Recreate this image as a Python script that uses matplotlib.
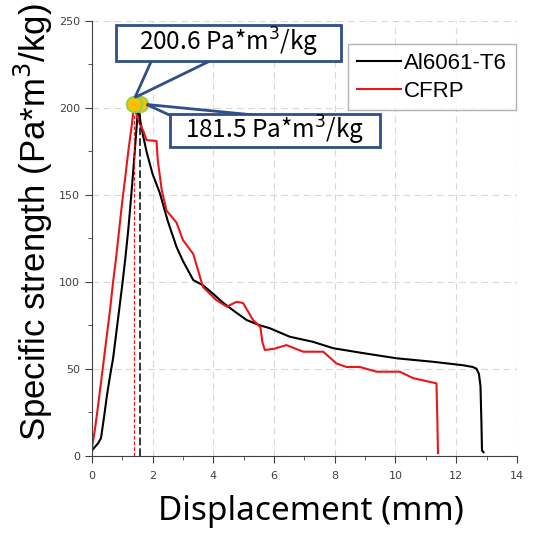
import numpy as np
import matplotlib.pyplot as plt
from matplotlib.patches import Polygon, Rectangle

# Al6061-T6 curve (displacement mm, specific strength)
al_x = [0, 0.1, 0.2, 0.3, 0.4, 0.5, 0.6, 0.7, 0.8, 0.9, 1.0, 1.1, 1.2, 1.3, 1.4, 1.5, 1.55,
        1.6, 1.7, 1.8, 2.0, 2.24, 2.5, 2.79, 3.0, 3.34, 3.66, 4.0, 4.32, 4.7, 5.1, 5.53, 5.86,
        6.52, 7.28, 7.95, 8.93, 10.04, 11.24, 12.23, 12.55, 12.67, 12.75, 12.8, 12.83, 12.85, 12.9]
al_y = [3, 5, 7, 10, 22, 35, 46, 56, 70, 84, 98, 113, 130, 150, 172, 195, 200.6,
        192, 183, 175, 162, 151, 135, 120, 112, 101, 98, 93, 88, 83, 78, 75, 73.3,
        68.4, 65.5, 61.8, 59, 56, 54, 52, 51, 50, 47, 40, 20, 3, 2]

# CFRP curve
cf_x = [0, 0.1, 0.2, 0.3, 0.4, 0.5, 0.6, 0.7, 0.8, 0.9, 1.0, 1.1, 1.2, 1.3, 1.38, 1.5, 1.6, 1.69,
        1.8, 2.13, 2.17, 2.3, 2.46, 2.79, 3.0, 3.34, 3.66, 4.1, 4.44, 4.77, 4.98, 5.31, 5.55,
        5.62, 5.70, 6.0, 6.41, 6.96, 7.62, 8.06, 8.39, 8.83, 9.38, 10.14, 10.58, 11.35, 11.38, 11.4]
cf_y = [4, 15, 28, 42, 56, 70, 84, 100, 114, 130, 146, 160, 175, 188, 200, 195, 190, 187,
        181.5, 181, 170, 153, 141, 134, 124, 116, 97, 89.5, 85.7, 88.5, 87.8, 78, 74,
        65, 60.8, 61.5, 63.6, 59.8, 59.8, 53, 51, 51, 48.3, 48.3, 44.6, 41.6, 20, 1.5]

peak_x = [1.4, 1.58]
peak_y = [202, 202]
labels = ["200.6 Pa*m$^3$/kg", "181.5 Pa*m$^3$/kg"]

navy = '#2f4f86'
font = ['Noto Sans CJK KR', 'DejaVu Sans']

fig = plt.figure(figsize=(5.34, 5.38), dpi=100)
ax = fig.add_axes([0.172, 0.153, 0.796, 0.808])

ax.plot(al_x, al_y, color='black', lw=1.5, label='Al6061-T6')
ax.plot(cf_x, cf_y, color='#e8161b', lw=1.5, label='CFRP')
ax.plot([peak_x[0]] * 2, [0, 196], color='#e8161b', lw=0.9, ls=(0, (3, 1.5)))
ax.plot([peak_x[1]] * 2, [0, 196], color='black', lw=1.1, ls=(0, (5, 2)))
ax.plot(peak_x[::-1], peak_y[::-1], 'o', ms=11, mfc='#ffc000', mec='#92d050', mew=1.5, ls='none', zorder=5)

ax.set_xlim(0, 14)
ax.set_ylim(0, 250)
ax.set_xticks(np.arange(0, 15, 2))
ax.set_xticks(np.arange(1, 14, 2), minor=True)
ax.set_yticks(np.arange(0, 251, 50))
ax.set_yticks(np.arange(25, 250, 50), minor=True)
ax.grid(True, which='major', color='#d8d8d8', ls=(0, (6, 4)), lw=0.8)
for s in ['top', 'right']:
    ax.spines[s].set_visible(False)
for s in ['left', 'bottom']:
    ax.spines[s].set_color('#404040')
ax.tick_params(which='major', direction='out', length=5, color='#404040', labelsize=8, labelcolor='#404040')
ax.tick_params(axis='x', which='major', pad=6)
ax.tick_params(which='minor', direction='out', length=3, color='#404040')
for t in ax.get_xticklabels() + ax.get_yticklabels():
    t.set_family(['Liberation Sans Narrow', 'DejaVu Sans'])

ax.set_xlabel('Displacement (mm)', fontsize=24, family=['Noto Sans', 'DejaVu Sans'])
ax.set_ylabel('Specific strength (Pa*m$^3$/kg)', fontsize=25, family=['Liberation Sans', 'DejaVu Sans'])
ax.xaxis.set_label_coords(0.515, -0.09, transform=ax.transAxes)
ax.yaxis.set_label_coords(-0.138, 0.537, transform=ax.transAxes)
ax.xaxis.label.set_va('top')
ax.yaxis.label.set_va('center')

leg = ax.legend(loc='upper right', bbox_to_anchor=(0.998, 0.947), fontsize=16, frameon=True, fancybox=False,
                handlelength=2.0, handletextpad=0.15, borderpad=0.4, labelspacing=0.3, borderaxespad=0)
leg.get_frame().set_edgecolor('#a0a0a0')
for t in leg.get_texts():
    t.set_family(['Liberation Sans', 'DejaVu Sans'])

# callout boxes (data coordinates)
boxes = [(0.79, 227.0, 7.41, 20.8), (2.57, 177.6, 6.92, 18.9)]
wedges = [[(1.96, 227.0), (1.42, 206), (3.89, 227.0)],
          [(2.57, 195.8), (1.8, 202), (5.42, 195.8)]]
for (bx, by, bw, bh), wd, lab in zip(boxes, wedges, labels):
    ax.add_patch(Polygon(wd, closed=False, facecolor='white', edgecolor=navy, lw=2, zorder=6, clip_on=False))
    ax.add_patch(Rectangle((bx, by), bw, bh, facecolor='white', edgecolor=navy, lw=2, zorder=7, clip_on=False))
    ax.text(bx + bw / 2, by + bh / 2, lab, ha='center', va='center', fontsize=17.5, zorder=8, family=font)

fig.savefig('out.png', dpi=100)
